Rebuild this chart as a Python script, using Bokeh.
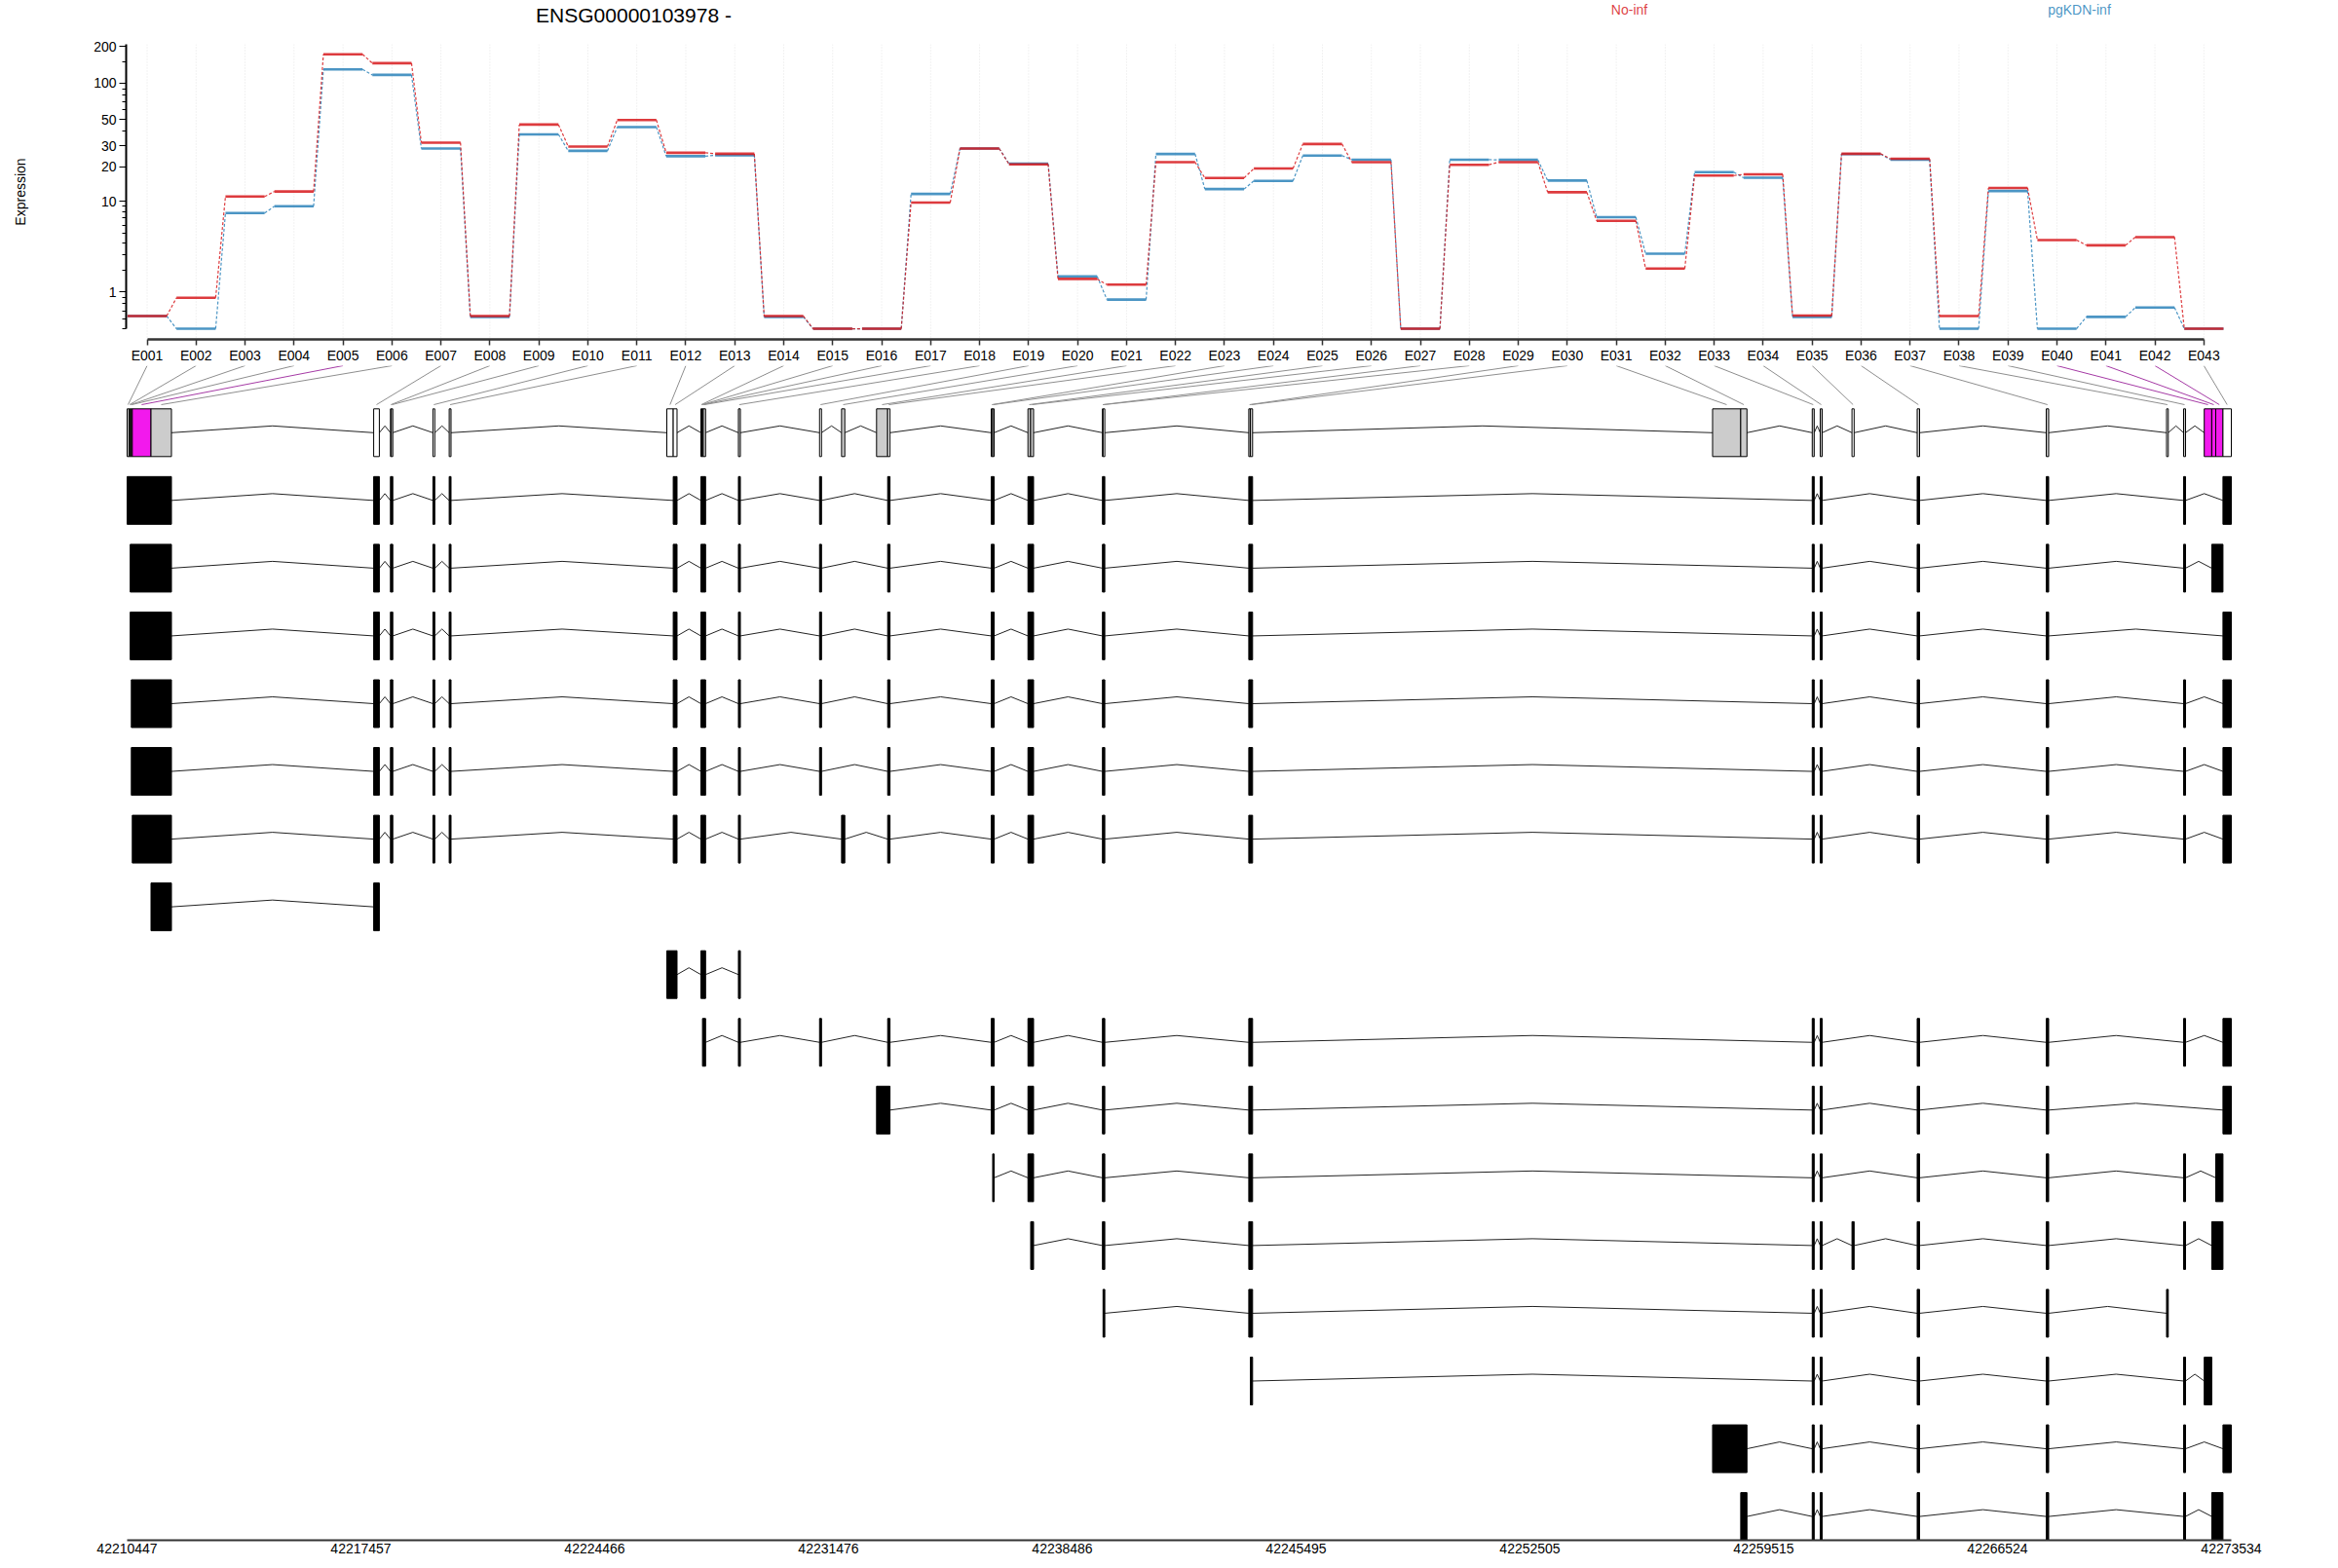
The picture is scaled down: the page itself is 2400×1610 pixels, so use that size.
import numpy as np
from bokeh.plotting import figure
from bokeh.models import Range1d, FixedTicker
from bokeh.layouts import column
from bokeh.embed import file_html
from bokeh.resources import INLINE
from bokeh.core.properties import value

# ---------------- data ----------------
gene_id = "ENSG00000103978"
strand = "-"
conditions = ["No-inf", "pgKDN-inf"]
cond_colors = ["#D7191C", "#2B83BA"]

exon_ids = ["E%03d" % i for i in range(1, 44)]

expr_noinf = [0.27, 0.79, 11.0, 12.2, 173, 146, 32.0, 0.27, 45.4, 29.7, 49.5,
              26.3, 25.8, 0.27, 0, 0, 9.7, 28.6, 21.0, 1.55, 1.29, 21.9, 16.0,
              19.3, 31.2, 21.9, 0, 20.8, 21.9, 12.0, 6.6, 2.1, 16.8, 17.2, 0.28,
              25.8, 23.4, 0.27, 13.1, 4.3, 3.8, 4.6, 0]
expr_pgkdn = [0.27, 0, 7.8, 9.0, 130, 117, 28.6, 0.25, 37.6, 27.3, 43.2,
              24.6, 25.1, 0.25, 0, 0, 11.6, 28.6, 21.3, 1.68, 0.73, 25.7, 12.8,
              15.1, 24.9, 23.0, 0, 23.0, 22.9, 15.2, 7.15, 3.1, 18.0, 16.1, 0.25,
              25.6, 23.0, 0, 12.3, 0, 0.25, 0.49, 0]

bin_start = [42210447, 42210502, 42210540, 42210573, 42210602, 42211163, 42217839,
             42218342, 42218371, 42219615, 42220103, 42226628, 42226820, 42227650,
             42227673, 42227697, 42227720, 42228774, 42231207, 42231867, 42232916,
             42233249, 42236354, 42236397, 42237455, 42237536, 42239689, 42239706,
             42244076, 42244123, 42257981, 42258825, 42260969, 42261209, 42262161,
             42264115, 42267985, 42271592, 42272103, 42272722, 42272947, 42273067,
             42273283]
bin_end = [42210502, 42210540, 42210573, 42210602, 42211163, 42211776, 42218009,
           42218371, 42218412, 42219671, 42220158, 42226820, 42226934, 42227673,
           42227697, 42227720, 42227790, 42228833, 42231266, 42231964, 42233249,
           42233319, 42236397, 42236441, 42237536, 42237624, 42239706, 42239759,
           42244123, 42244190, 42258825, 42259012, 42261028, 42261267, 42262225,
           42264188, 42268058, 42271644, 42272161, 42272947, 42273067, 42273283,
           42273534]
# "sig" = significant (magenta), "ns" = tested (grey), "na" = not tested (white)
bin_state = ["na", "na", "ns", "ns", "sig", "ns", "na", "na", "na", "na", "ns",
             "na", "na", "ns", "ns", "ns", "ns", "ns", "na", "ns", "ns", "na",
             "ns", "ns", "ns", "ns", "na", "na", "ns", "ns", "ns", "ns", "ns",
             "ns", "na", "ns", "ns", "na", "ns", "sig", "sig", "sig", "na"]

# transcripts: exons as (first bin, last bin), 1-based bin numbers
mid_a = [(7, 7), (8, 9), (10, 10), (11, 11), (13, 13), (14, 17), (18, 18)]
tail_a = [(22, 22), (23, 24), (25, 26), (27, 28), (29, 30), (33, 33), (34, 34), (36, 36), (37, 37)]
transcripts = [
    [(1, 6)] + mid_a + [(19, 19)] + tail_a + [(39, 39), (43, 43)],
    [(3, 6)] + mid_a + [(19, 19)] + tail_a + [(39, 39), (41, 42)],
    [(3, 6)] + mid_a + [(19, 19)] + tail_a + [(43, 43)],
    [(4, 6)] + mid_a + [(19, 19)] + tail_a + [(39, 39), (43, 43)],
    [(4, 6)] + mid_a + [(19, 19)] + tail_a + [(39, 39), (43, 43)],
    [(5, 6)] + mid_a + [(20, 20)] + tail_a + [(39, 39), (43, 43)],
    [(6, 6), (7, 7)],
    [(12, 13), (14, 17), (18, 18)],
    [(16, 17), (18, 18), (19, 19)] + tail_a + [(39, 39), (43, 43)],
    [(21, 22), (23, 24), (25, 26), (27, 28), (29, 30), (33, 33), (34, 34), (36, 36), (37, 37), (43, 43)],
    [(24, 24), (25, 26), (27, 28), (29, 30), (33, 33), (34, 34), (36, 36), (37, 37), (39, 39), (42, 42)],
    [(26, 26), (27, 28), (29, 30), (33, 33), (34, 34), (35, 35), (36, 36), (37, 37), (39, 39), (41, 42)],
    [(28, 28), (29, 30), (33, 33), (34, 34), (36, 36), (37, 37), (38, 38)],
    [(30, 30), (33, 33), (34, 34), (36, 36), (37, 37), (39, 39), (40, 40)],
    [(31, 32), (33, 33), (34, 34), (36, 36), (37, 37), (39, 39), (43, 43)],
    [(32, 32), (33, 33), (34, 34), (36, 36), (37, 37), (39, 39), (41, 42)],
]

genomic_ticks = [42210447, 42217457, 42224466, 42231476, 42238486,
                 42245495, 42252505, 42259515, 42266524, 42273534]
y_tick_values = [1, 10, 20, 30, 50, 100, 200]
y_minor_values = [0, 0.2, 0.4, 0.6, 0.8, 2, 3, 4, 5, 6, 7, 8, 9, 40, 60, 70, 80, 90, 150]

# ---------------- layout constants (page pixels) ----------------
W, H = 2400, 1610
FONT = "Liberation Sans"
FL = 129                       # frame left (all panels)
HEAD_H = 30                    # header strip (title + condition names)
FRAME_TOP = 45                 # page y of the top of the expression frame
TOP_H = 375                    # bottom edge of the expression panel
AX_Y = 349                     # page y of the exon-label axis
ZERO_Y = 338.0                 # page y of expression 0
PX_PER_LOG = 126.2
X0_PAGE, DX = 150.5, 50.27     # page x of E001 and spacing of labels

tx0 = (FL - X0_PAGE) / DX
tx1 = (W - X0_PAGE) / DX
ty1 = (ZERO_Y - FRAME_TOP) / PX_PER_LOG
ty0 = (ZERO_Y - AX_Y) / PX_PER_LOG

G_LEFT_PAGE, G_RIGHT_PAGE = 130.0, 2290.0
gscale = (genomic_ticks[-1] - genomic_ticks[0]) / (G_RIGHT_PAGE - G_LEFT_PAGE)
gx0 = genomic_ticks[0] - (G_LEFT_PAGE - FL) * gscale
gx1 = genomic_ticks[0] + (W - G_LEFT_PAGE) * gscale

BOT_H = H - TOP_H
ROW0_Y, ROW_DY = 443.8, 69.55
rows_top = (TOP_H - ROW0_Y) / ROW_DY
rows_bot = (1581 - ROW0_Y) / ROW_DY
HALF = 24.5 / ROW_DY
HAT = 7.0 / ROW_DY
LINE_END = (415 - ROW0_Y) / ROW_DY

def lg(v):
    return np.log10(np.asarray(v, dtype=float) + 1.0)

def page_to_log(y):
    return (ZERO_Y - y) / PX_PER_LOG

def page_to_idx(x):
    return (x - X0_PAGE) / DX

idx = np.arange(len(exon_ids))

# ---------------- header: title and condition names ----------------
p0 = figure(width=W, height=HEAD_H, output_backend="svg", toolbar_location=None,
            x_range=Range1d(tx0, tx1), y_range=Range1d(HEAD_H, 0),
            x_axis_location=None, y_axis_location=None,
            min_border_left=FL, min_border_right=0, min_border_top=0, min_border_bottom=0)
p0.outline_line_color = None
p0.grid.visible = False
p0.text(x=[page_to_idx(650)], y=[15], text=["%s %s" % (gene_id, strand)],
        text_font=value(FONT), text_font_size="21px", text_align="center",
        text_baseline="middle", text_color="black")
p0.text(x=[page_to_idx(1672), page_to_idx(2134)], y=[9, 9], text=conditions,
        text_font=value(FONT), text_font_size="14px", text_align="center",
        text_baseline="middle", text_color=cond_colors, text_alpha=0.85)

# ---------------- top: expression ----------------
p1 = figure(width=W, height=TOP_H - HEAD_H, output_backend="svg", toolbar_location=None,
            x_range=p0.x_range, y_range=Range1d(ty0, ty1),
            min_border_left=FL, min_border_right=0, min_border_top=FRAME_TOP - HEAD_H,
            min_border_bottom=TOP_H - AX_Y)
p1.outline_line_color = None
p1.grid.visible = False

p1.segment(x0=idx, y0=page_to_log(347), x1=idx, y1=ty1, line_color="#E4E4E4",
           line_dash="1 2", line_width=1)

for vals, col in [(expr_pgkdn, cond_colors[1]), (expr_noinf, cond_colors[0])]:
    L = lg(vals)
    p1.segment(x0=idx - 0.4, y0=L, x1=idx + 0.4, y1=L, line_color=col,
               line_alpha=0.85, line_width=2.6)
    p1.segment(x0=idx[:-1] + 0.4, y0=L[:-1], x1=idx[1:] - 0.4, y1=L[1:],
               line_color=col, line_alpha=0.85, line_width=1.2, line_dash="3 2")

xa = p1.xaxis[0]
xa.ticker = FixedTicker(ticks=[int(i) for i in idx])
xa.major_label_overrides = {int(i): exon_ids[i] for i in idx}
xa.bounds = (0, len(exon_ids) - 1)
xa.axis_line_width = 2.5
xa.axis_line_color = "#333333"
xa.major_tick_out = 6
xa.major_tick_in = 0
xa.major_tick_line_width = 1.5
xa.major_tick_line_color = "#333333"
xa.minor_tick_line_color = None
xa.major_label_standoff = 2
xa.major_label_text_font = FONT
xa.major_label_text_font_size = "14px"
xa.major_label_text_color = "black"

ya = p1.yaxis[0]
major_pos = [float(v) for v in lg(y_tick_values)]
ya.ticker = FixedTicker(ticks=major_pos, minor_ticks=[float(v) for v in lg(y_minor_values)])
ya.major_label_overrides = {major_pos[i]: str(y_tick_values[i]) for i in range(len(y_tick_values))}
ya.bounds = (0, ty1)
ya.axis_line_width = 2
ya.axis_line_color = "black"
ya.major_tick_out = 7
ya.major_tick_in = 0
ya.minor_tick_out = 4
ya.minor_tick_in = 0
ya.minor_tick_line_color = "black"
ya.major_label_standoff = 3
ya.major_label_text_font = FONT
ya.major_label_text_font_size = "14px"
ya.major_label_text_color = "black"
ya.axis_label = "Expression"
ya.axis_label_text_font = FONT
ya.axis_label_text_font_size = "14px"
ya.axis_label_text_font_style = "normal"
ya.axis_label_text_color = "black"
ya.axis_label_standoff = 64

# ---------------- bottom: gene model + transcripts ----------------
p2 = figure(width=W, height=BOT_H, output_backend="svg", toolbar_location=None,
            x_range=Range1d(gx0, gx1), y_range=Range1d(rows_bot, rows_top),
            y_axis_location=None, min_border_left=FL, min_border_right=0,
            min_border_top=0, min_border_bottom=H - 1581)
p2.outline_line_color = None
p2.grid.visible = False

bs = np.array(bin_start, dtype=float)
be = np.array(bin_end, dtype=float)
bc = (bs + be) / 2
fill_map = {"sig": "#F219ED", "ns": "#CCCCCC", "na": "white"}
line_map = {"sig": "#A53AA5", "ns": "#8E8E8E", "na": "#8E8E8E"}

# connector lines from exon labels to the bins
lab_page = X0_PAGE + idx * DX
lab_g = gx0 + (lab_page - FL) / (W - FL) * (gx1 - gx0)
p2.segment(x0=lab_g, y0=rows_top, x1=bc, y1=LINE_END,
           line_color=[line_map[s] for s in bin_state], line_width=1)

# model row introns (between separated groups)
hx, hy = [], []
for i in range(len(bs) - 1):
    if bs[i + 1] - be[i] > 5:
        hx.append([be[i], (be[i] + bs[i + 1]) / 2, bs[i + 1]])
        hy.append([0, -HAT, 0])
p2.multi_line(xs=hx, ys=hy, line_color="#222222", line_width=1)
p2.quad(left=bs, right=be, top=-HALF, bottom=HALF,
        fill_color=[fill_map[s] for s in bin_state], line_color="black", line_width=1)

# transcripts
tl, tr, tt, tb = [], [], [], []
ix, iy = [], []
for k, tx in enumerate(transcripts, start=1):
    ex = [(bin_start[a - 1], bin_end[b - 1]) for a, b in tx]
    for s, e in ex:
        tl.append(s); tr.append(e); tt.append(k - HALF); tb.append(k + HALF)
    for (s1, e1), (s2, e2) in zip(ex[:-1], ex[1:]):
        ix.append([e1, (e1 + s2) / 2, s2])
        iy.append([k, k - HAT, k])
p2.multi_line(xs=ix, ys=iy, line_color="#222222", line_width=1)
p2.quad(left=tl, right=tr, top=tt, bottom=tb, fill_color="black", line_color="black", line_width=1)

ga = p2.xaxis[0]
ga.ticker = FixedTicker(ticks=genomic_ticks)
ga.major_label_overrides = {t: str(t) for t in genomic_ticks}
ga.bounds = (genomic_ticks[0], genomic_ticks[-1])
ga.axis_line_width = 2
ga.axis_line_color = "#333333"
ga.major_tick_out = 0
ga.major_tick_in = 0
ga.minor_tick_line_color = None
ga.major_label_standoff = 3
ga.major_label_text_font = FONT
ga.major_label_text_font_size = "14px"
ga.major_label_text_color = "black"

layout = column(p0, p1, p2, spacing=0)
open("out.html", "w").write(file_html(layout, INLINE))
